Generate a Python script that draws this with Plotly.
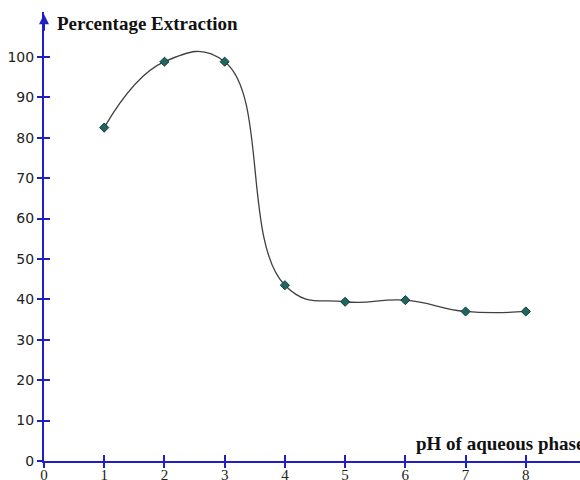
import plotly.graph_objects as go

ph = [1, 2, 3, 4, 5, 6, 7, 8]
extraction = [82.5, 98.8, 98.8, 43.5, 39.4, 39.8, 37.0, 37.0]
x_ticks = [0, 1, 2, 3, 4, 5, 6, 7, 8, 9]
y_ticks = [0, 10, 20, 30, 40, 50, 60, 70, 80, 90, 100]
y_title = "Percentage Extraction"
x_title = "pH of aqueous phase"

AX = "#1f1fc4"

fig = go.Figure()
fig.add_trace(go.Scatter(
    x=ph, y=extraction, mode="lines+markers",
    line=dict(shape="spline", smoothing=1.3, color="#404040", width=1.3),
    marker=dict(symbol="diamond", size=7, color="#1f6660",
                line=dict(color="#0f3a38", width=1)),
    showlegend=False,
))
# invisible trace for overlay axes
fig.add_trace(go.Scatter(x=[0], y=[0], xaxis="x2", yaxis="y2",
                         mode="markers", marker=dict(opacity=0),
                         showlegend=False, hoverinfo="skip"))

xr = [0, 8.9]
yr = [0, 111.1]
fig.update_layout(
    width=580, height=480,
    margin=dict(l=44, r=0, t=12, b=19),
    plot_bgcolor="white", paper_bgcolor="white",
    xaxis=dict(range=xr, tickvals=x_ticks, ticks="outside", ticklen=5,
               tickcolor=AX, tickwidth=1.5, showgrid=False, zeroline=False,
               showline=True, linecolor=AX, linewidth=2, automargin=False,
               tickfont=dict(family="Liberation Serif", size=15, color="#222"),
               ticklabelstandoff=-6),
    yaxis=dict(range=yr, tickvals=y_ticks, ticks="outside", ticklen=5,
               tickcolor=AX, tickwidth=1.5, showgrid=False, zeroline=False,
               showline=True, linecolor=AX, linewidth=2, automargin=False,
               tickfont=dict(family="DejaVu Sans", size=14, color="#222")),
    xaxis2=dict(range=xr, tickvals=x_ticks, ticks="inside", ticklen=6,
                tickcolor=AX, tickwidth=1.5, showticklabels=False,
                showgrid=False, zeroline=False, overlaying="x", side="bottom"),
    yaxis2=dict(range=yr, tickvals=y_ticks, ticks="inside", ticklen=6,
                tickcolor=AX, tickwidth=1.5, showticklabels=False,
                showgrid=False, zeroline=False, overlaying="y", side="left"),
    annotations=[
        dict(text="<b>" + y_title + "</b>", xref="paper", yref="paper",
             x=0.02, y=0.975, xanchor="left", yanchor="middle", showarrow=False,
             font=dict(family="Liberation Serif", size=19, color="#111")),
        dict(text="<b>" + x_title + "</b>", xref="paper", yref="paper",
             x=0.69, y=0.038, xanchor="left", yanchor="middle", showarrow=False,
             font=dict(family="Liberation Serif", size=19, color="#111")),
        dict(text="", xref="paper", yref="paper", x=0, y=0.995,
             ax=0, ay=18, showarrow=True, arrowhead=2, arrowsize=1,
             arrowwidth=2, arrowcolor=AX),
    ],
)
fig.write_html("out.html", config={"displayModeBar": False},
               post_script="document.body.style.margin='0';document.body.style.overflow='hidden';")
